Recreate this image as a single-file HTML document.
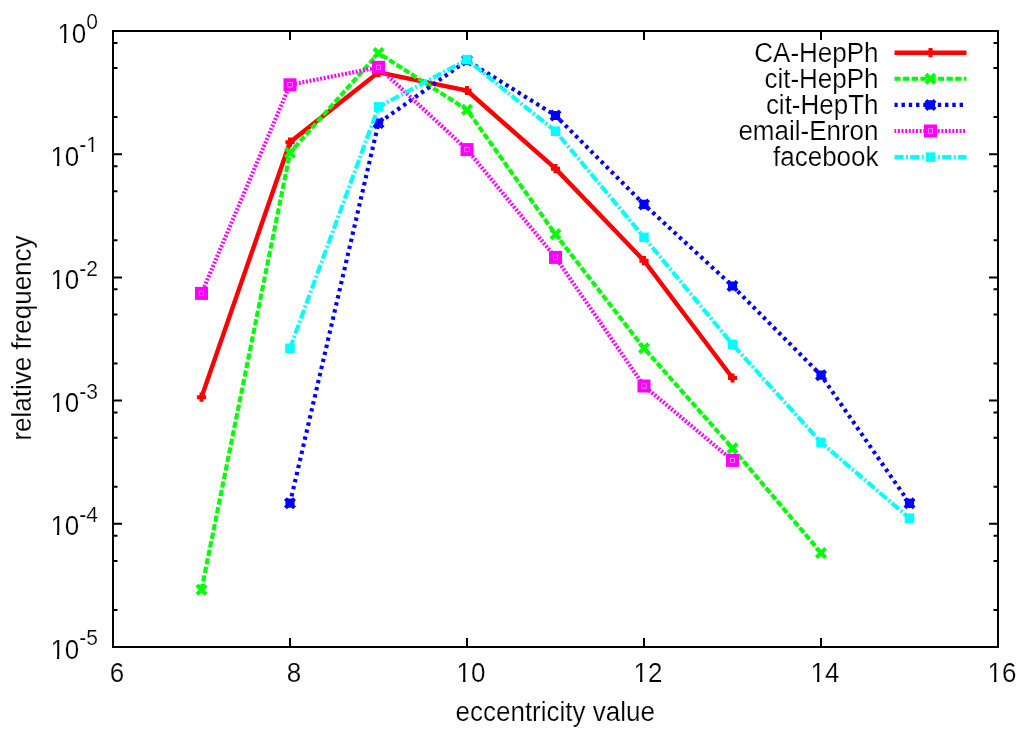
<!DOCTYPE html>
<html><head><meta charset="utf-8"><style>
html,body{margin:0;padding:0;background:#fff;}
body{width:1024px;height:737px;overflow:hidden;}
svg{display:block;will-change:transform;}
text{font-family:"Liberation Sans",sans-serif;fill:#000;stroke:#fff;stroke-width:0.2px;paint-order:fill;}
</style></head><body>
<svg width="1024" height="737" viewBox="0 0 1024 737">
<rect width="1024" height="737" fill="#fff"/>

<path d="M113.0,647V638M113.0,31V40M290.0,647V638M290.0,31V40M467.0,647V638M467.0,31V40M644.0,647V638M644.0,31V40M821.0,647V638M821.0,31V40M998.0,647V638M998.0,31V40M113,31.00H122M998,31.00H989M113,42.94H117.5M998,42.94H993.5M113,68.09H117.5M998,68.09H993.5M113,117.11H117.5M998,117.11H993.5M113,154.20H122M998,154.20H989M113,166.14H117.5M998,166.14H993.5M113,191.29H117.5M998,191.29H993.5M113,240.31H117.5M998,240.31H993.5M113,277.40H122M998,277.40H989M113,289.34H117.5M998,289.34H993.5M113,314.49H117.5M998,314.49H993.5M113,363.51H117.5M998,363.51H993.5M113,400.60H122M998,400.60H989M113,412.54H117.5M998,412.54H993.5M113,437.69H117.5M998,437.69H993.5M113,486.71H117.5M998,486.71H993.5M113,523.80H122M998,523.80H989M113,535.74H117.5M998,535.74H993.5M113,560.89H117.5M998,560.89H993.5M113,609.91H117.5M998,609.91H993.5M113,647.00H122M998,647.00H989" stroke="#000" stroke-width="2" fill="none"/>
<path d="M201.50,397.20L290.00,142.20L378.50,72.30L467.00,90.50L555.50,168.70L644.00,260.70L732.50,378.00" stroke="#ff0000" stroke-width="4.4" fill="none" stroke-linejoin="miter"/>
<path d="M196.90,397.20H206.10M201.50,392.60V401.80" stroke="#ff0000" stroke-width="4" fill="none"/>
<path d="M285.40,142.20H294.60M290.00,137.60V146.80" stroke="#ff0000" stroke-width="4" fill="none"/>
<path d="M373.90,72.30H383.10M378.50,67.70V76.90" stroke="#ff0000" stroke-width="4" fill="none"/>
<path d="M462.40,90.50H471.60M467.00,85.90V95.10" stroke="#ff0000" stroke-width="4" fill="none"/>
<path d="M550.90,168.70H560.10M555.50,164.10V173.30" stroke="#ff0000" stroke-width="4" fill="none"/>
<path d="M639.40,260.70H648.60M644.00,256.10V265.30" stroke="#ff0000" stroke-width="4" fill="none"/>
<path d="M727.90,378.00H737.10M732.50,373.40V382.60" stroke="#ff0000" stroke-width="4" fill="none"/>
<path d="M201.50,589.80L290.00,152.80L378.50,53.10L467.00,109.80L555.50,234.30L644.00,348.30L732.50,448.30L821.00,552.90" stroke="#00ff00" stroke-width="4.1" fill="none" stroke-linejoin="miter" stroke-dasharray="6.306 2.403" stroke-dashoffset="0.25"/>
<path d="M196.90,585.20L206.10,594.40M196.90,594.40L206.10,585.20" stroke="#00ff00" stroke-width="4" fill="none"/>
<path d="M285.40,148.20L294.60,157.40M285.40,157.40L294.60,148.20" stroke="#00ff00" stroke-width="4" fill="none"/>
<path d="M373.90,48.50L383.10,57.70M373.90,57.70L383.10,48.50" stroke="#00ff00" stroke-width="4" fill="none"/>
<path d="M462.40,105.20L471.60,114.40M462.40,114.40L471.60,105.20" stroke="#00ff00" stroke-width="4" fill="none"/>
<path d="M550.90,229.70L560.10,238.90M550.90,238.90L560.10,229.70" stroke="#00ff00" stroke-width="4" fill="none"/>
<path d="M639.40,343.70L648.60,352.90M639.40,352.90L648.60,343.70" stroke="#00ff00" stroke-width="4" fill="none"/>
<path d="M727.90,443.70L737.10,452.90M727.90,452.90L737.10,443.70" stroke="#00ff00" stroke-width="4" fill="none"/>
<path d="M816.40,548.30L825.60,557.50M816.40,557.50L825.60,548.30" stroke="#00ff00" stroke-width="4" fill="none"/>
<path d="M290.00,503.20L378.50,123.10L467.00,60.50L555.50,115.50L644.00,204.40L732.50,286.00L821.00,375.20L909.50,503.30" stroke="#0000ff" stroke-width="4.1" fill="none" stroke-linejoin="miter" stroke-dasharray="3.403 3.854" stroke-dashoffset="0.25"/>
<path d="M285.40,503.20H294.60M290.00,498.60V507.80M285.40,498.60L294.60,507.80M285.40,507.80L294.60,498.60" stroke="#0000ff" stroke-width="4" fill="none"/>
<path d="M373.90,123.10H383.10M378.50,118.50V127.70M373.90,118.50L383.10,127.70M373.90,127.70L383.10,118.50" stroke="#0000ff" stroke-width="4" fill="none"/>
<path d="M462.40,60.50H471.60M467.00,55.90V65.10M462.40,55.90L471.60,65.10M462.40,65.10L471.60,55.90" stroke="#0000ff" stroke-width="4" fill="none"/>
<path d="M550.90,115.50H560.10M555.50,110.90V120.10M550.90,110.90L560.10,120.10M550.90,120.10L560.10,110.90" stroke="#0000ff" stroke-width="4" fill="none"/>
<path d="M639.40,204.40H648.60M644.00,199.80V209.00M639.40,199.80L648.60,209.00M639.40,209.00L648.60,199.80" stroke="#0000ff" stroke-width="4" fill="none"/>
<path d="M727.90,286.00H737.10M732.50,281.40V290.60M727.90,281.40L737.10,290.60M727.90,290.60L737.10,281.40" stroke="#0000ff" stroke-width="4" fill="none"/>
<path d="M816.40,375.20H825.60M821.00,370.60V379.80M816.40,370.60L825.60,379.80M816.40,379.80L825.60,370.60" stroke="#0000ff" stroke-width="4" fill="none"/>
<path d="M904.90,503.30H914.10M909.50,498.70V507.90M904.90,498.70L914.10,507.90M904.90,507.90L914.10,498.70" stroke="#0000ff" stroke-width="4" fill="none"/>
<path d="M201.50,293.40L290.00,84.80L378.50,67.30L467.00,149.60L555.50,257.40L644.00,386.00L732.50,460.40" stroke="#ff00ff" stroke-width="4.1" fill="none" stroke-linejoin="miter" stroke-dasharray="1.951 1.677" stroke-dashoffset="0.25"/>
<rect x="195.00" y="286.90" width="13.00" height="13.00" fill="#ff00ff"/><rect x="199.30" y="291.20" width="4.4" height="4.4" fill="none" stroke="#ffc8ff" stroke-width="0.6"/>
<rect x="283.50" y="78.30" width="13.00" height="13.00" fill="#ff00ff"/><rect x="287.80" y="82.60" width="4.4" height="4.4" fill="none" stroke="#ffc8ff" stroke-width="0.6"/>
<rect x="372.00" y="60.80" width="13.00" height="13.00" fill="#ff00ff"/><rect x="376.30" y="65.10" width="4.4" height="4.4" fill="none" stroke="#ffc8ff" stroke-width="0.6"/>
<rect x="460.50" y="143.10" width="13.00" height="13.00" fill="#ff00ff"/><rect x="464.80" y="147.40" width="4.4" height="4.4" fill="none" stroke="#ffc8ff" stroke-width="0.6"/>
<rect x="549.00" y="250.90" width="13.00" height="13.00" fill="#ff00ff"/><rect x="553.30" y="255.20" width="4.4" height="4.4" fill="none" stroke="#ffc8ff" stroke-width="0.6"/>
<rect x="637.50" y="379.50" width="13.00" height="13.00" fill="#ff00ff"/><rect x="641.80" y="383.80" width="4.4" height="4.4" fill="none" stroke="#ffc8ff" stroke-width="0.6"/>
<rect x="726.00" y="453.90" width="13.00" height="13.00" fill="#ff00ff"/><rect x="730.30" y="458.20" width="4.4" height="4.4" fill="none" stroke="#ffc8ff" stroke-width="0.6"/>
<path d="M290.00,348.30L378.50,106.90L467.00,59.70L555.50,131.20L644.00,237.30L732.50,344.40L821.00,442.40L909.50,518.20" stroke="#00ffff" stroke-width="4.1" fill="none" stroke-linejoin="miter" stroke-dasharray="9.208 2.403 1.951 2.403" stroke-dashoffset="0.25"/>
<rect x="285.25" y="343.55" width="9.50" height="9.50" fill="#00ffff"/>
<rect x="373.75" y="102.15" width="9.50" height="9.50" fill="#00ffff"/>
<rect x="462.25" y="54.95" width="9.50" height="9.50" fill="#00ffff"/>
<rect x="550.75" y="126.45" width="9.50" height="9.50" fill="#00ffff"/>
<rect x="639.25" y="232.55" width="9.50" height="9.50" fill="#00ffff"/>
<rect x="727.75" y="339.65" width="9.50" height="9.50" fill="#00ffff"/>
<rect x="816.25" y="437.65" width="9.50" height="9.50" fill="#00ffff"/>
<rect x="904.75" y="513.45" width="9.50" height="9.50" fill="#00ffff"/>
<rect x="113" y="31" width="885" height="616" fill="none" stroke="#000" stroke-width="2"/>
<path d="M894.5,52.70H966.5" stroke="#ff0000" stroke-width="4.4" fill="none"/>
<path d="M925.90,52.70H935.10M930.50,48.10V57.30" stroke="#ff0000" stroke-width="4" fill="none"/>
<text transform="translate(878.5,61.60) scale(1,1.07)" font-size="26" text-anchor="end">CA-HepPh</text>
<path d="M894.5,78.80H966.5" stroke="#00ff00" stroke-width="4.1" fill="none" stroke-dasharray="6.306 2.403" stroke-dashoffset="0.25"/>
<path d="M925.90,74.20L935.10,83.40M925.90,83.40L935.10,74.20" stroke="#00ff00" stroke-width="4" fill="none"/>
<text transform="translate(878.5,87.70) scale(1,1.07)" font-size="26" text-anchor="end">cit-HepPh</text>
<path d="M894.5,104.90H966.5" stroke="#0000ff" stroke-width="4.1" fill="none" stroke-dasharray="3.403 3.854" stroke-dashoffset="0.25"/>
<path d="M925.90,104.90H935.10M930.50,100.30V109.50M925.90,100.30L935.10,109.50M925.90,109.50L935.10,100.30" stroke="#0000ff" stroke-width="4" fill="none"/>
<text transform="translate(878.5,113.80) scale(1,1.07)" font-size="26" text-anchor="end">cit-HepTh</text>
<path d="M894.5,131.00H966.5" stroke="#ff00ff" stroke-width="4.1" fill="none" stroke-dasharray="1.951 1.677" stroke-dashoffset="0.25"/>
<rect x="924.00" y="124.50" width="13.00" height="13.00" fill="#ff00ff"/><rect x="928.30" y="128.80" width="4.4" height="4.4" fill="none" stroke="#ffc8ff" stroke-width="0.6"/>
<text transform="translate(878.5,139.90) scale(1,1.07)" font-size="26" text-anchor="end">email-Enron</text>
<path d="M894.5,157.10H966.5" stroke="#00ffff" stroke-width="4.1" fill="none" stroke-dasharray="9.208 2.403 1.951 2.403" stroke-dashoffset="0.25"/>
<rect x="925.75" y="152.35" width="9.50" height="9.50" fill="#00ffff"/>
<text transform="translate(878.5,166.00) scale(1,1.07)" font-size="26" text-anchor="end">facebook</text>
<text transform="translate(117.0,682.3) scale(1,1.05)" font-size="26" text-anchor="middle">6</text>
<text transform="translate(294.0,682.3) scale(1,1.05)" font-size="26" text-anchor="middle">8</text>
<text transform="translate(471.0,682.3) scale(1,1.05)" font-size="26" text-anchor="middle">10</text>
<text transform="translate(648.0,682.3) scale(1,1.05)" font-size="26" text-anchor="middle">12</text>
<text transform="translate(825.0,682.3) scale(1,1.05)" font-size="26" text-anchor="middle">14</text>
<text transform="translate(1002.0,682.3) scale(1,1.05)" font-size="26" text-anchor="middle">16</text>
<text transform="translate(98,42.50) scale(1,1.05)" font-size="26" text-anchor="end">10<tspan font-size="21" dx="0" dy="-12.67">0</tspan></text>
<text transform="translate(98,165.70) scale(1,1.05)" font-size="26" text-anchor="end">10<tspan font-size="21" dx="0" dy="-12.67">-1</tspan></text>
<text transform="translate(98,288.90) scale(1,1.05)" font-size="26" text-anchor="end">10<tspan font-size="21" dx="0" dy="-12.67">-2</tspan></text>
<text transform="translate(98,412.10) scale(1,1.05)" font-size="26" text-anchor="end">10<tspan font-size="21" dx="0" dy="-12.67">-3</tspan></text>
<text transform="translate(98,535.30) scale(1,1.05)" font-size="26" text-anchor="end">10<tspan font-size="21" dx="0" dy="-12.67">-4</tspan></text>
<text transform="translate(98,658.50) scale(1,1.05)" font-size="26" text-anchor="end">10<tspan font-size="21" dx="0" dy="-12.67">-5</tspan></text>
<rect x="456.14" y="679.56" width="6.94" height="3.64" fill="#fff"/>
<rect x="465.38" y="679.56" width="5.13" height="3.64" fill="#fff"/>
<rect x="633.14" y="679.56" width="6.94" height="3.64" fill="#fff"/>
<rect x="642.38" y="679.56" width="5.13" height="3.64" fill="#fff"/>
<rect x="810.14" y="679.56" width="6.94" height="3.64" fill="#fff"/>
<rect x="819.38" y="679.56" width="5.13" height="3.64" fill="#fff"/>
<rect x="987.14" y="679.56" width="6.94" height="3.64" fill="#fff"/>
<rect x="996.38" y="679.56" width="5.13" height="3.64" fill="#fff"/>
<rect x="57.00" y="39.76" width="6.94" height="3.64" fill="#fff"/>
<rect x="66.24" y="39.76" width="5.13" height="3.64" fill="#fff"/>
<rect x="50.01" y="162.96" width="6.94" height="3.64" fill="#fff"/>
<rect x="59.24" y="162.96" width="5.13" height="3.64" fill="#fff"/>
<rect x="85.92" y="150.05" width="5.68" height="3.25" fill="#fff"/>
<rect x="93.46" y="150.05" width="4.14" height="3.25" fill="#fff"/>
<rect x="50.01" y="286.16" width="6.94" height="3.64" fill="#fff"/>
<rect x="59.24" y="286.16" width="5.13" height="3.64" fill="#fff"/>
<rect x="50.01" y="409.36" width="6.94" height="3.64" fill="#fff"/>
<rect x="59.24" y="409.36" width="5.13" height="3.64" fill="#fff"/>
<rect x="50.01" y="532.56" width="6.94" height="3.64" fill="#fff"/>
<rect x="59.24" y="532.56" width="5.13" height="3.64" fill="#fff"/>
<rect x="50.01" y="655.76" width="6.94" height="3.64" fill="#fff"/>
<rect x="59.24" y="655.76" width="5.13" height="3.64" fill="#fff"/>
<text transform="translate(555.2,721.2) scale(1,1.03)" font-size="26" text-anchor="middle">eccentricity value</text>
<text transform="translate(30.9,338) rotate(-90) scale(1,1.03)" font-size="26" text-anchor="middle">relative frequency</text>
</svg>
</body></html>
